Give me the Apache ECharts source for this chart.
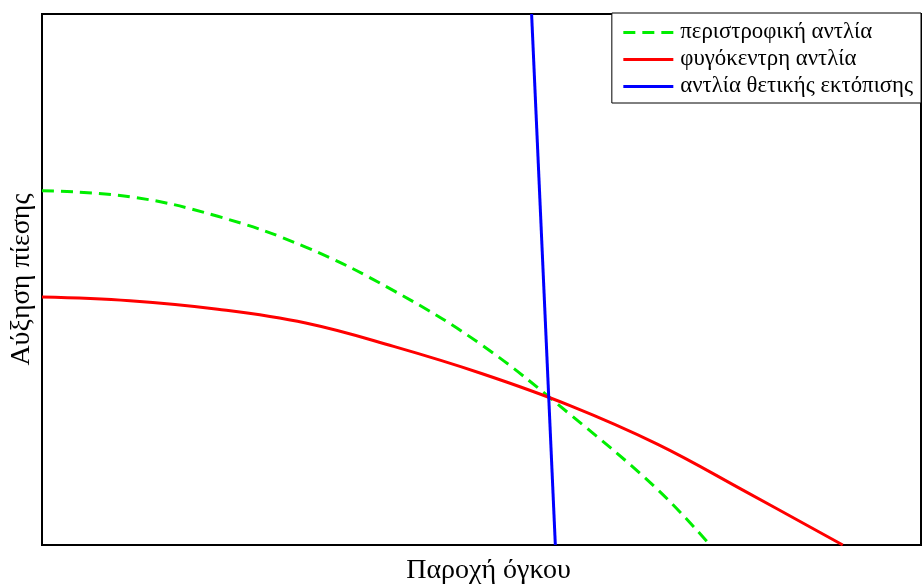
<!DOCTYPE html>
<html>
<head>
<meta charset="utf-8">
<script src="https://cdn.jsdelivr.net/npm/echarts@6/dist/echarts.min.js"></script>
<style>
html,body{margin:0;padding:0;background:#fff;}
#c{width:922px;height:584px;}
</style>
</head>
<body>
<div id="c"></div>
<script>
// Series names
const seriesNames = ['περιστροφική αντλία', 'φυγόκεντρη αντλία', 'αντλία θετικής εκτόπισης'];
// Peripheral (regenerative) pump curve: [flow, pressure]
const peripheralX = [0, 10, 20, 30, 40, 50, 60, 70, 76.0];
const peripheralY = [66.7, 65.6, 61.9, 56.1, 47.9, 37.7, 24.7, 10.5, 0];
// Centrifugal pump curve
const centrifugalX = [0, 10, 20, 30, 40, 50, 60, 70, 80, 91.1];
const centrifugalY = [46.7, 46.0, 44.4, 41.8, 37.4, 32.3, 26.3, 19.0, 10.1, 0];
// Positive displacement pump curve
const displacementX = [55.7, 58.4];
const displacementY = [100, 0];

const zip = (xs, ys) => xs.map((x, i) => [x, ys[i]]);
const font = '"Liberation Serif", "DejaVu Serif", serif';

const chart = echarts.init(document.getElementById('c'), null, {renderer: 'canvas'});
chart.setOption({
  animation: false,
  backgroundColor: '#fff',
  grid: {left: 42, right: 1, top: 14, bottom: 39, containLabel: false, outerBoundsMode: 'none',
         show: true, borderColor: '#000', borderWidth: 2, backgroundColor: 'transparent'},
  legend: {
    orient: 'vertical',
    right: 1, top: 13,
    data: seriesNames,
    itemWidth: 50, itemHeight: 14, itemGap: 4,
    padding: [8, 8, 5, 10],
    borderColor: '#000', borderWidth: 1, backgroundColor: '#fff',
    itemStyle: {opacity: 0},
    lineStyle: {width: 3},
    textStyle: {fontFamily: font, fontSize: 22.8, lineHeight: 23, color: '#000', padding: [0, 0, 0, 2]}
  },
  xAxis: {
    type: 'value', min: 0, max: 100,
    name: 'Παροχή όγκου', nameLocation: 'middle', nameGap: 12,
    nameTextStyle: {fontFamily: font, fontSize: 28, color: '#000', padding: [0, 0, 0, 14], verticalAlign: 'top'},
    axisLine: {show: true, lineStyle: {color: '#000', width: 2}},
    axisTick: {show: false}, axisLabel: {show: false}, splitLine: {show: false}
  },
  yAxis: {
    type: 'value', min: 0, max: 100,
    name: 'Αύξηση πίεσης', nameLocation: 'middle', nameGap: 6,
    nameTextStyle: {fontFamily: font, fontSize: 28, color: '#000'},
    axisLine: {show: true, lineStyle: {color: '#000', width: 2}},
    axisTick: {show: false}, axisLabel: {show: false}, splitLine: {show: false}
  },
  series: [
    {name: seriesNames[0], type: 'line', smooth: 0.4, symbol: 'none',
     data: zip(peripheralX, peripheralY),
     lineStyle: {color: '#00ee00', width: 3, type: [12, 7]}, itemStyle: {color: '#00ee00'}},
    {name: seriesNames[1], type: 'line', smooth: 0.4, symbol: 'none',
     data: zip(centrifugalX, centrifugalY),
     lineStyle: {color: '#ff0000', width: 3}, itemStyle: {color: '#ff0000'}},
    {name: seriesNames[2], type: 'line', symbol: 'none',
     data: zip(displacementX, displacementY),
     lineStyle: {color: '#0000ff', width: 3}, itemStyle: {color: '#0000ff'}}
  ]
});
</script>
</body>
</html>
